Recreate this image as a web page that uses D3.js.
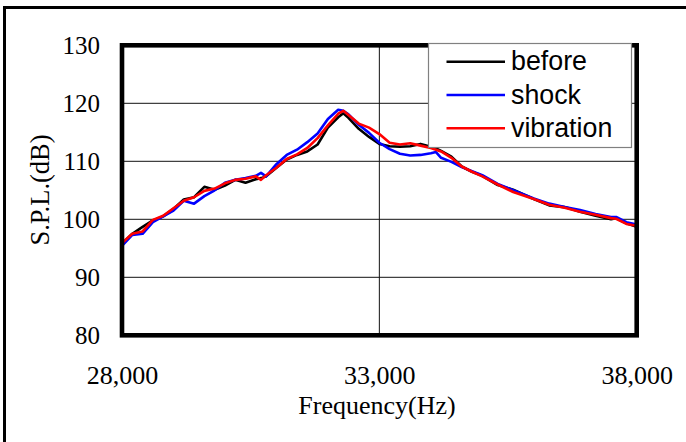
<!DOCTYPE html>
<html>
<head>
<meta charset="utf-8">
<script src="https://cdn.jsdelivr.net/npm/d3@7"></script>
<style>
  body { margin: 0; background: #fff; }
  svg { display: block; }
</style>
</head>
<body>
<svg></svg>
<script>
// frequencies (Hz) shared by the three runs
var freqs = [28000, 28200, 28400, 28600, 28800, 29000, 29200, 29400, 29600, 29800,
    30000, 30200, 30400, 30600, 30700, 30800, 31000, 31200, 31400, 31600,
    31800, 32000, 32200, 32300, 32400, 32600, 32800, 33000, 33200, 33400,
    33600, 33800, 34000, 34100, 34200, 34400, 34600, 34800, 35000, 35300,
    35600, 36000, 36300, 36600, 36900, 37200, 37500, 37600, 37800, 38000];

var before = [95.8, 97.5, 98.7, 99.8, 100.5, 101.8, 103.4, 103.8, 105.6, 105.1,
    105.8, 106.8, 106.3, 106.9, 107.1, 107.4, 108.9, 110.3, 111.1, 111.7,
    112.9, 115.8, 117.6, 118.3, 117.5, 115.6, 114.2, 113.0, 112.6, 112.5,
    112.6, 113.0, 112.5, 112.2, 111.8, 110.8, 109.1, 108.2, 107.5, 105.9,
    105.1, 103.5, 102.4, 102.1, 101.3, 100.6, 100.0, 100.2, 99.3, 98.7];

var shock = [95.4, 97.3, 97.5, 99.5, 100.5, 101.5, 103.2, 102.7, 104.0, 105.0,
    106.3, 106.8, 107.1, 107.5, 108.0, 107.4, 109.5, 111.1, 112.0, 113.3,
    114.8, 117.3, 118.9, 118.7, 118.1, 116.3, 114.9, 113.2, 112.1, 111.3,
    111.0, 111.1, 111.4, 111.6, 110.6, 109.9, 109.0, 108.3, 107.6, 106.1,
    105.0, 103.6, 102.7, 102.1, 101.6, 100.9, 100.4, 100.4, 99.5, 99.1];

var vibration = [95.9, 97.5, 97.9, 99.9, 100.6, 101.9, 103.2, 103.8, 104.9, 105.3,
    106.2, 106.8, 107.0, 107.4, 106.8, 107.6, 108.9, 110.4, 111.2, 112.3,
    114.0, 116.2, 118.2, 118.7, 118.0, 116.5, 115.8, 114.7, 113.2, 112.9,
    113.1, 112.7, 112.3, 112.0, 111.7, 110.6, 109.1, 108.2, 107.4, 106.0,
    104.7, 103.5, 102.5, 102.0, 101.3, 100.8, 100.2, 100.1, 99.2, 98.9];

var seriesNames = ["before", "shock", "vibration"];
var seriesColors = ["#000000", "#0000ff", "#ff0000"];
var yTicks = [80, 90, 100, 110, 120, 130];
var xTicks = [28000, 33000, 38000];

var width = 686, height = 442;
var svg = d3.select("svg").attr("width", width).attr("height", height);

var x = d3.scaleLinear().domain([28000, 38000]).range([122, 636.7]);
var y = d3.scaleLinear().domain([80, 130]).range([335.3, 45.3]);

// outer border (runs off the right and bottom edges)
svg.append("rect")
    .attr("x", 4.5).attr("y", 7.5)
    .attr("width", 720).attr("height", 480)
    .attr("fill", "none").attr("stroke", "#000").attr("stroke-width", 3);

// grid
var g = svg.append("g");
g.selectAll("line.hgrid")
    .data(yTicks.slice(1, -1))
    .enter().append("line")
    .attr("class", "hgrid")
    .attr("x1", x(28000)).attr("x2", x(38000))
    .attr("y1", d => y(d)).attr("y2", d => y(d))
    .attr("stroke", "#111").attr("stroke-width", 1);

g.append("line")
    .attr("x1", x(33000)).attr("x2", x(33000))
    .attr("y1", y(130)).attr("y2", y(80))
    .attr("stroke", "#111").attr("stroke-width", 1);

// curves
var allSeries = [before, shock, vibration];
var line = d3.line()
    .x((d, i) => x(freqs[i]))
    .y(d => y(d));

g.selectAll("path.curve")
    .data(allSeries)
    .enter().append("path")
    .attr("class", "curve")
    .attr("d", d => line(d))
    .attr("fill", "none")
    .attr("stroke", (d, i) => seriesColors[i])
    .attr("stroke-width", 2.6)
    .attr("stroke-linejoin", "round");

// thick plot frame
svg.append("rect")
    .attr("x", x(28000)).attr("y", y(130))
    .attr("width", x(38000) - x(28000)).attr("height", y(80) - y(130))
    .attr("fill", "none").attr("stroke", "#000").attr("stroke-width", 4.6);

// y axis labels
var yAxis = d3.axisLeft(y).tickValues(yTicks).tickSize(0).tickPadding(22);
var ya = svg.append("g").attr("transform", "translate(" + x(28000) + ",0)").call(yAxis);
ya.select(".domain").remove();
ya.selectAll("text")
    .attr("dy", "0.34em")
    .style("font-family", "'Times New Roman', 'Liberation Serif', serif")
    .style("font-size", "25px")
    .attr("fill", "#000");

// x axis labels
var xAxis = d3.axisBottom(x).tickValues(xTicks).tickSize(0).tickFormat(d3.format(","));
var xa = svg.append("g").attr("transform", "translate(0," + y(80) + ")").call(xAxis);
xa.select(".domain").remove();
xa.selectAll("text")
    .attr("y", 49).attr("dy", null)
    .style("font-family", "'Times New Roman', 'Liberation Serif', serif")
    .style("font-size", "26px")
    .attr("fill", "#000");

// axis titles
svg.append("text")
    .attr("x", 377).attr("y", 414)
    .attr("text-anchor", "middle")
    .style("font-family", "'Times New Roman', 'Liberation Serif', serif")
    .style("font-size", "26px")
    .text("Frequency(Hz)");

svg.append("text")
    .attr("transform", "translate(49,190) rotate(-90)")
    .attr("text-anchor", "middle")
    .style("font-family", "'Times New Roman', 'Liberation Serif', serif")
    .style("font-size", "26.5px")
    .text("S.P.L.(dB)");

// legend
var legend = svg.append("g");
legend.append("rect")
    .attr("x", 428.5).attr("y", 43.5)
    .attr("width", 203).attr("height", 104)
    .attr("fill", "#fff").attr("stroke", "#808080").attr("stroke-width", 1.2);

var rowY = [61.7, 95, 128.3];
var items = legend.selectAll("g.item")
    .data(seriesNames)
    .enter().append("g")
    .attr("class", "item");

items.append("line")
    .attr("x1", 446.5).attr("x2", 505)
    .attr("y1", (d, i) => rowY[i]).attr("y2", (d, i) => rowY[i])
    .attr("stroke", (d, i) => seriesColors[i])
    .attr("stroke-width", 2.6);

items.append("text")
    .attr("x", 511)
    .attr("y", (d, i) => rowY[i] + 8.7)
    .style("font-family", "Arial, 'Liberation Sans', sans-serif")
    .style("font-size", "26.8px")
    .text(d => d);
</script>
</body>
</html>
